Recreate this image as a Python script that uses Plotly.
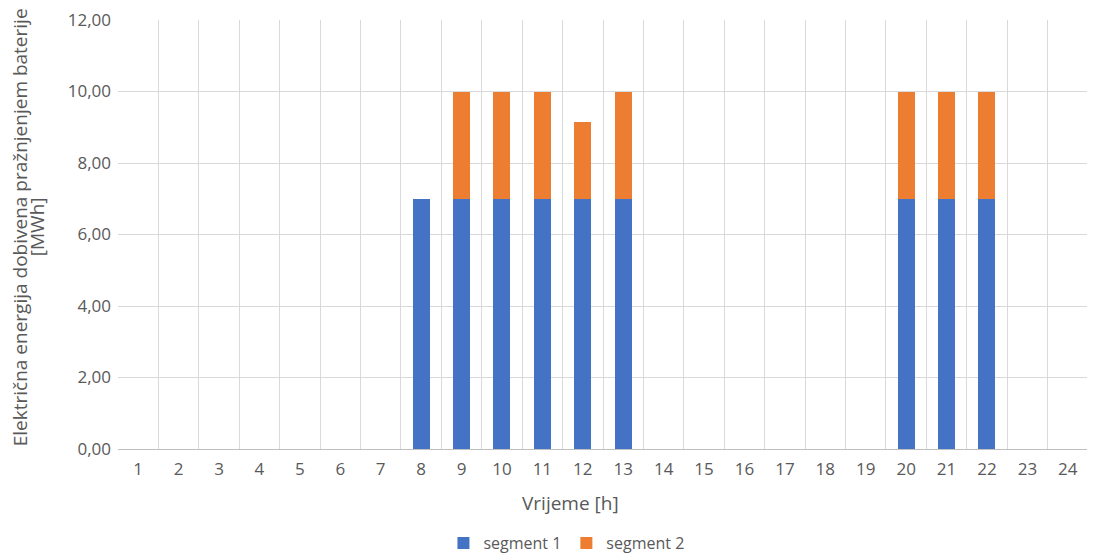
import plotly.graph_objects as go

hours = [str(h) for h in range(1, 25)]
segment1 = [0, 0, 0, 0, 0, 0, 0, 7, 7, 7, 7, 7, 7, 0, 0, 0, 0, 0, 0, 7, 7, 7, 0, 0]
segment2 = [0, 0, 0, 0, 0, 0, 0, 0, 3, 3, 3, 2.15, 3, 0, 0, 0, 0, 0, 0, 3, 3, 3, 0, 0]

FONT = "Open Sans"
GRAY = "#595959"

fig = go.Figure()
fig.add_trace(go.Bar(x=hours, y=segment1, name="segment 1", marker_color="#4472C4",
                     marker_line_width=0))
fig.add_trace(go.Bar(x=hours, y=segment2, name="segment 2", marker_color="#ED7D31",
                     marker_line_width=0))

fig.update_layout(
    width=1095, height=553,
    barmode="stack", bargap=0.58,
    plot_bgcolor="white", paper_bgcolor="white",
    separators=",.",
    margin=dict(l=110, r=15, t=12, b=112, autoexpand=False),
    font=dict(family=FONT, color=GRAY, size=16),
    showlegend=True,
    legend=dict(orientation="h", xref="container", yref="container",
                x=0.51, y=0.0325, xanchor="center", yanchor="middle",
                font=dict(size=16, color=GRAY), traceorder="normal"),
    xaxis=dict(type="category", tickson="boundaries", showgrid=True,
               gridcolor="#D9D9D9", gridwidth=1, ticks="", showline=True,
               linecolor="#BFBFBF", linewidth=1, automargin=False,
               ticklabelstandoff=5,
               tickfont=dict(size=17, color=GRAY)),
    yaxis=dict(range=[0, 12.0001], dtick=2, tickformat=".2f", showgrid=True,
               gridcolor="#D9D9D9", gridwidth=1, zeroline=False, showline=False,
               ticks="", ticklabeloverflow="allow", automargin=False,
               ticklabelstandoff=6,
               tickfont=dict(size=17, color=GRAY)),
    annotations=[
        dict(text="Vrijeme [h]", xref="paper", yref="paper",
             x=0.466, y=-0.126, xanchor="center", yanchor="middle", showarrow=False,
             font=dict(size=19, color=GRAY)),
        dict(text="Električna energija dobivena pražnjenjem baterije",
             xref="paper", yref="paper", x=-0.101, y=0.517, textangle=-90,
             xanchor="center", yanchor="middle", showarrow=False,
             font=dict(size=19, color=GRAY)),
        dict(text="[MWh]",
             xref="paper", yref="paper", x=-0.0835, y=0.517, textangle=-90,
             xanchor="center", yanchor="middle", showarrow=False,
             font=dict(size=19, color=GRAY)),
    ],
)

fig.write_html("out.html")
